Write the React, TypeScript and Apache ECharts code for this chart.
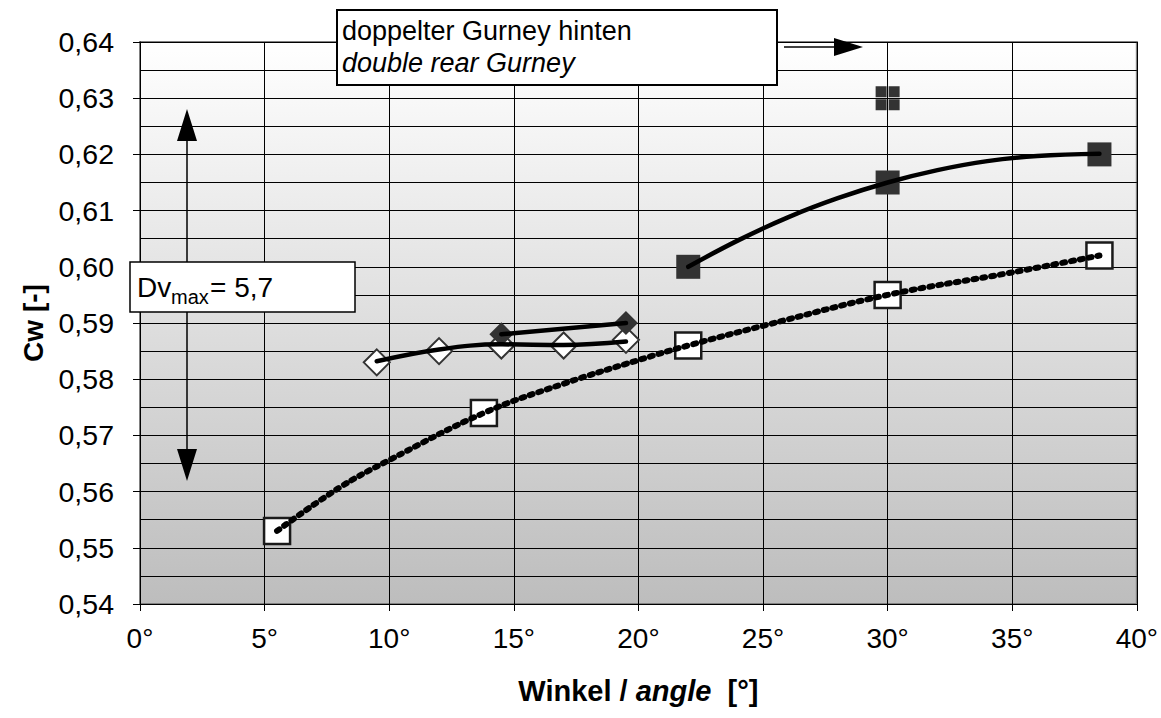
import React, { useEffect, useRef } from "react";
import * as echarts from "echarts";

// ---- data ----
const openSqX = [5.5, 13.8, 22, 30, 38.5];
const openSqY = [0.553, 0.574, 0.586, 0.595, 0.602];
const filledSqX = [22, 30, 38.5];
const filledSqY = [0.6, 0.615, 0.62];
const openDiaX = [9.5, 12, 14.5, 17, 19.5];
const openDiaY = [0.583, 0.585, 0.586, 0.586, 0.587];
const filledDiaX = [14.5, 19.5];
const filledDiaY = [0.588, 0.59];
const extraX = [30];
const extraY = [0.63];

// trend curves
const openSqTrendX = [5.5, 8, 10, 13.8, 17, 20, 22, 25, 30, 35, 38.5];
const openSqTrendY = [0.553, 0.5607, 0.5656, 0.574, 0.5792, 0.5834, 0.586, 0.5895, 0.595, 0.599, 0.602];
const filledSqTrendX = [22, 24, 26, 28, 30, 32, 34, 36, 38.5];
const filledSqTrendY = [0.6, 0.6047, 0.6088, 0.6122, 0.615, 0.6172, 0.6188, 0.6197, 0.6201];
const openDiaTrendX = [9.5, 12, 14.5, 17, 19.5];
const openDiaTrendY = [0.5832, 0.5853, 0.5862, 0.5861, 0.5867];

const xTicks = [0, 5, 10, 15, 20, 25, 30, 35, 40];
const yMin = 0.54;
const yMax = 0.64;
const yStep = 0.01;

const FONT = "'Liberation Sans', Arial, sans-serif";

const zip = (xs: number[], ys: number[]) => xs.map((x, i) => [x, ys[i]]);

const quadSymbol =
  "path://M0,0h11v11h-11z M13,0h11v11h-11z M0,13h11v11h-11z M13,13h11v11h-11z";

export default function App() {
  const ref = useRef<HTMLDivElement>(null);

  useEffect(() => {
    document.body.style.margin = "0";
    const chart = echarts.init(ref.current as HTMLDivElement, undefined, { renderer: "svg" });
    const option: any = {
      animation: false,
      backgroundColor: "#ffffff",
      grid: {
        left: 140,
        right: 24,
        top: 42,
        bottom: 114,
        show: true,
        borderColor: "#808080",
        borderWidth: 2,
        backgroundColor: new echarts.graphic.LinearGradient(0, 0, 0, 1, [
          { offset: 0, color: "#ffffff" },
          { offset: 1, color: "#bdbdbd" },
        ]),
      },
      xAxis: {
        type: "value",
        min: xTicks[0],
        max: xTicks[xTicks.length - 1],
        interval: 5,
        axisLine: { show: true, onZero: false, lineStyle: { color: "#000", width: 1 } },
        axisTick: { show: true, length: 7, lineStyle: { color: "#000" } },
        splitLine: { show: true, lineStyle: { color: "#000", width: 1 } },
        axisLabel: {
          formatter: (v: number) => `${v}°`,
          fontSize: 28,
          fontFamily: FONT,
          color: "#000",
          margin: 20,
        },
        name: "{b|Winkel / }{i|angle}{b|  [°]}",
        nameLocation: "middle",
        nameGap: 72,
        nameTextStyle: {
          rich: {
            b: { fontSize: 29, fontWeight: "bold", fontFamily: FONT, color: "#000" },
            i: { fontSize: 29, fontWeight: "bold", fontStyle: "italic", fontFamily: FONT, color: "#000" },
          },
        },
      },
      yAxis: {
        type: "value",
        min: yMin,
        max: yMax,
        interval: yStep,
        axisLine: { show: true, onZero: false, lineStyle: { color: "#000", width: 1 } },
        axisTick: { show: true, length: 7, lineStyle: { color: "#000" } },
        splitLine: { show: true, lineStyle: { color: "#000", width: 1 } },
        minorTick: { show: false, splitNumber: 2 },
        minorSplitLine: { show: true, lineStyle: { color: "#000", width: 1 } },
        axisLabel: {
          formatter: (v: number) => v.toFixed(2).replace(".", ","),
          fontSize: 28.5,
          fontFamily: FONT,
          color: "#000",
          margin: 26,
        },
        name: "Cw [-]",
        nameLocation: "middle",
        nameGap: 92,
        nameTextStyle: { fontSize: 28, fontWeight: "bold", fontFamily: FONT, color: "#000" },
      },
      series: [
        {
          type: "scatter",
          data: zip(openSqX, openSqY),
          symbol: "rect",
          symbolSize: 26,
          itemStyle: { color: "#ffffff", borderColor: "#1a1a1a", borderWidth: 2.5, opacity: 1 },
          z: 2,
        },
        {
          type: "scatter",
          data: zip(filledSqX, filledSqY),
          symbol: "rect",
          symbolSize: 24,
          itemStyle: { color: "#333333", opacity: 1 },
          z: 2,
        },
        {
          type: "scatter",
          data: zip(openDiaX, openDiaY),
          symbol: "diamond",
          symbolSize: [26, 26],
          itemStyle: { color: "#ffffff", borderColor: "#333333", borderWidth: 2, opacity: 1 },
          z: 2,
        },
        {
          type: "scatter",
          data: zip(filledDiaX, filledDiaY),
          symbol: "diamond",
          symbolSize: [24, 24],
          itemStyle: { color: "#333333", opacity: 1 },
          z: 2,
        },
        {
          type: "scatter",
          data: zip(extraX, extraY),
          symbol: quadSymbol,
          symbolSize: 24,
          itemStyle: { color: "#333333", opacity: 1 },
          z: 2,
        },
        {
          type: "line",
          data: zip(openSqTrendX, openSqTrendY),
          smooth: 0.4,
          showSymbol: false,
          lineStyle: { color: "#000", width: 6, type: [3, 6], cap: "round" },
          z: 4,
        },
        {
          type: "line",
          data: zip(filledSqTrendX, filledSqTrendY),
          smooth: 0.4,
          showSymbol: false,
          lineStyle: { color: "#000", width: 4.5, cap: "round" },
          z: 4,
        },
        {
          type: "line",
          data: zip(openDiaTrendX, openDiaTrendY),
          smooth: 0.4,
          showSymbol: false,
          lineStyle: { color: "#000", width: 4.5, cap: "round" },
          z: 4,
        },
        {
          type: "line",
          data: zip(filledDiaX, filledDiaY),
          showSymbol: false,
          lineStyle: { color: "#000", width: 4.5, cap: "round" },
          z: 4,
        },
      ],
      graphic: [
        // double arrow
        {
          type: "line",
          shape: { x1: 187, y1: 135, x2: 187, y2: 455 },
          style: { stroke: "#000", lineWidth: 1.5 },
          z: 10,
        },
        {
          type: "polygon",
          shape: { points: [[187, 109], [177, 141], [197, 141]] },
          style: { fill: "#000" },
          z: 10,
        },
        {
          type: "polygon",
          shape: { points: [[187, 481], [177, 449], [197, 449]] },
          style: { fill: "#000" },
          z: 10,
        },
        // Dv box
        {
          type: "rect",
          shape: { x: 130, y: 262, width: 225, height: 50 },
          style: { fill: "#fff", stroke: "#000", lineWidth: 1.5 },
          z: 11,
        },
        {
          type: "text",
          x: 137,
          y: 287,
          style: { text: "Dv", fontSize: 28, fontFamily: FONT, fill: "#000", verticalAlign: "middle" },
          z: 12,
        },
        {
          type: "text",
          x: 171,
          y: 297,
          style: { text: "max", fontSize: 20, fontFamily: FONT, fill: "#000", verticalAlign: "middle" },
          z: 12,
        },
        {
          type: "text",
          x: 210,
          y: 287,
          style: { text: "= 5,7", fontSize: 28, fontFamily: FONT, fill: "#000", verticalAlign: "middle" },
          z: 12,
        },
        // top legend box
        {
          type: "rect",
          shape: { x: 337, y: 10, width: 440, height: 75 },
          style: { fill: "#fff", stroke: "#000", lineWidth: 2 },
          z: 11,
        },
        {
          type: "text",
          x: 342,
          y: 31,
          style: { text: "doppelter Gurney hinten", fontSize: 27, fontFamily: FONT, fill: "#000", verticalAlign: "middle" },
          z: 12,
        },
        {
          type: "text",
          x: 342,
          y: 63,
          style: { text: "double rear Gurney", fontSize: 27, fontStyle: "italic", fontFamily: FONT, fill: "#000", verticalAlign: "middle" },
          z: 12,
        },
        // right arrow
        {
          type: "line",
          shape: { x1: 784, y1: 47, x2: 840, y2: 47 },
          style: { stroke: "#000", lineWidth: 1.5 },
          z: 10,
        },
        {
          type: "polygon",
          shape: { points: [[834, 38], [863, 47], [834, 56]] },
          style: { fill: "#000" },
          z: 10,
        },
      ],
    };
    chart.setOption(option);
    return () => chart.dispose();
  }, []);

  return (
    <div
      ref={ref}
      style={{ position: "fixed", left: 0, top: 0, width: 1161, height: 718, background: "#fff" }}
    />
  );
}
